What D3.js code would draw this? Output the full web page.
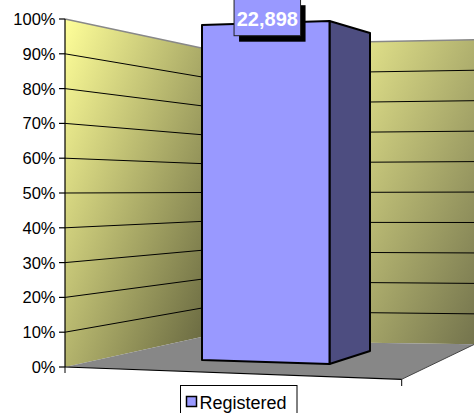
<!DOCTYPE html>
<html>
<head>
<meta charset="utf-8">
<script src="https://cdn.jsdelivr.net/npm/d3@7"></script>
<style>
  html, body { margin: 0; padding: 0; background: #fff; }
  svg { display: block; }
  text { font-family: "Liberation Sans", Arial, sans-serif; }
</style>
</head>
<body>
<script>
// ---- data ----
const categories = [""];
const seriesNames = ["Registered"];
const seriesValues = [22898];
const tickValues = [0, 10, 20, 30, 40, 50, 60, 70, 80, 90, 100];
const tickLabels = ["0%", "10%", "20%", "30%", "40%", "50%", "60%", "70%", "80%", "90%", "100%"];

const W = 474, H = 413;
const svg = d3.select("body").append("svg").attr("width", W).attr("height", H);
const defs = svg.append("defs");

function grad(id, c0, c1) {
  const g = defs.append("linearGradient").attr("id", id)
    .attr("x1", 0).attr("y1", 0).attr("x2", 1).attr("y2", 1);
  g.append("stop").attr("offset", 0).attr("stop-color", c0);
  g.append("stop").attr("offset", 1).attr("stop-color", c1);
}
grad("gLeft", "#ffff99", "#66663f");
grad("gRight", "#f0f092", "#74744d");

// ---- scales (perspective edges of walls and bar) ----
const pct = d3.scaleLinear().domain([0, 100]);
const xL0 = 65, xL1 = 201.5;        // left (side) wall x-extents
const yL0 = pct.copy().range([367, 19]);
const yL1 = pct.copy().range([337, 48]);
const xR0 = 330, xR1 = 474;         // back wall x-extents
const yRa = d3.scaleLinear().domain([370, 474]);
function yR(x, v) {
  const a = pct.copy().range([342.8, 41.8])(v), b = pct.copy().range([344.3, 39.8])(v);
  return yRa.copy().range([a, b])(x);
}

// ---- walls ----
svg.append("path")
  .attr("d", `M${xL0},${yL0(100)}L${xL1},${yL1(100)}L${xL1},${yL1(0)}L${xL0},${yL0(0)}Z`)
  .attr("fill", "url(#gLeft)");
svg.append("path")
  .attr("d", `M${xR0},${yR(xR0,100)}L${xR1},${yR(xR1,100)}L${xR1},${yR(xR1,0)}L${xR0},${yR(xR0,0)}Z`)
  .attr("fill", "url(#gRight)");

// ---- floor ----
const floorFront = [[65, 367], [401.7, 379.3], [474, 344.5]];
svg.append("path")
  .attr("d", `M${floorFront[0]}L${floorFront[1]}L${floorFront[2]}L${xR1},${yR(xR1,0)}L${xR0},${yR(xR0,0)}L${xL1},${yL1(0)}Z`)
  .attr("fill", "#878787");
svg.append("line").attr("x1", 65).attr("y1", 367).attr("x2", 401.7).attr("y2", 379.3)
  .attr("stroke", "#000").attr("stroke-width", 1.2);
svg.append("line").attr("x1", 401.7).attr("y1", 379.3).attr("x2", 474).attr("y2", 344.5)
  .attr("stroke", "#444").attr("stroke-width", 1);

// ---- gridlines ----
const inner = tickValues.filter(t => t > 0 && t < 100);
svg.append("g").selectAll("line").data(inner).join("line")
  .attr("x1", xL0).attr("y1", d => yL0(d)).attr("x2", xL1).attr("y2", d => yL1(d))
  .attr("stroke", "#000").attr("stroke-width", 1);
svg.append("g").selectAll("line").data(inner).join("line")
  .attr("x1", xR0).attr("y1", d => yR(xR0, d)).attr("x2", xR1).attr("y2", d => yR(xR1, d))
  .attr("stroke", "#000").attr("stroke-width", 1);
// top edges of walls
svg.append("line").attr("x1", xL0).attr("y1", yL0(100)).attr("x2", xL1).attr("y2", yL1(100))
  .attr("stroke", "#888").attr("stroke-width", 1.5);
svg.append("line").attr("x1", xR0).attr("y1", yR(xR0,100)).attr("x2", xR1).attr("y2", yR(xR1,100))
  .attr("stroke", "#888").attr("stroke-width", 1.5);

// ---- value axis ----
svg.append("line").attr("x1", xL0).attr("y1", yL0(100)).attr("x2", xL0).attr("y2", yL0(0))
  .attr("stroke", "#000").attr("stroke-width", 1.2);
const ticks = svg.append("g");
ticks.selectAll("line").data(tickValues).join("line")
  .attr("x1", xL0 - 6).attr("x2", xL0).attr("y1", d => yL0(d)).attr("y2", d => yL0(d))
  .attr("stroke", "#000").attr("stroke-width", 1.2);
ticks.selectAll("text").data(tickValues).join("text")
  .attr("x", 55.5).attr("y", d => yL0(d) + 6)
  .attr("text-anchor", "end").attr("font-size", 16.5).attr("fill", "#000")
  .text((d, i) => tickLabels[i]);
// category axis ticks
svg.append("line").attr("x1", 65).attr("y1", 367).attr("x2", 65).attr("y2", 373).attr("stroke", "#000");
svg.append("line").attr("x1", 401.7).attr("y1", 379.3).attr("x2", 401.7).attr("y2", 386).attr("stroke", "#000");

// ---- bar (100% stacked, single series) ----
const total = d3.sum(seriesValues);
const shares = seriesValues.map(v => v / total);
const bx0 = 202, bx1 = 329.5, bxBack = 370;
const yFL = d3.scaleLinear().domain([0, 1]).range([360, 25]);
const yFR = d3.scaleLinear().domain([0, 1]).range([364, 21]);
const yBK = d3.scaleLinear().domain([0, 1]).range([351, 33]);
const bars = svg.append("g");
let acc = 0;
shares.forEach((s, i) => {
  const a = acc, b = acc + s; acc = b;
  bars.append("path")
    .attr("d", `M${bx1},${yFR(b)}L${bxBack},${yBK(b)}L${bxBack},${yBK(a)}L${bx1},${yFR(a)}Z`)
    .attr("fill", "#4d4d80").attr("stroke", "#000").attr("stroke-width", 2).attr("stroke-linejoin", "round");
  bars.append("path")
    .attr("d", `M${bx0},${yFL(b)}L${bx1},${yFR(b)}L${bx1},${yFR(a)}L${bx0},${yFL(a)}Z`)
    .attr("fill", "#9999ff").attr("stroke", "#000").attr("stroke-width", 2).attr("stroke-linejoin", "round");

  // data label
  const cx = 267.3;
  const lbl = d3.format(",")(seriesValues[i]);
  const bw = 66.5, bh = 36.5, by = -0.8;
  bars.append("rect").attr("x", cx - bw / 2 + 5).attr("y", by + 6).attr("width", bw).attr("height", bh).attr("fill", "#000");
  bars.append("rect").attr("x", cx - bw / 2).attr("y", by).attr("width", bw).attr("height", bh)
    .attr("fill", "#9999ff").attr("stroke", "#222").attr("stroke-width", 1);
  bars.append("text").attr("x", cx).attr("y", 25.5).attr("text-anchor", "middle")
    .attr("font-size", 20).attr("font-weight", "bold").attr("fill", "#fff").text(lbl);
});

// ---- legend ----
const lg = svg.append("g");
lg.append("rect").attr("x", 180.5).attr("y", 385.5).attr("width", 116.5).attr("height", 35)
  .attr("fill", "#fff").attr("stroke", "#000").attr("stroke-width", 1);
seriesNames.forEach((n, i) => {
  lg.append("rect").attr("x", 186.5).attr("y", 396.5).attr("width", 10).attr("height", 10)
    .attr("fill", "#9999ff").attr("stroke", "#000").attr("stroke-width", 1.5);
  lg.append("text").attr("x", 199.5).attr("y", 408.5).attr("font-size", 18).attr("fill", "#000").text(n);
});
</script>
</body>
</html>
